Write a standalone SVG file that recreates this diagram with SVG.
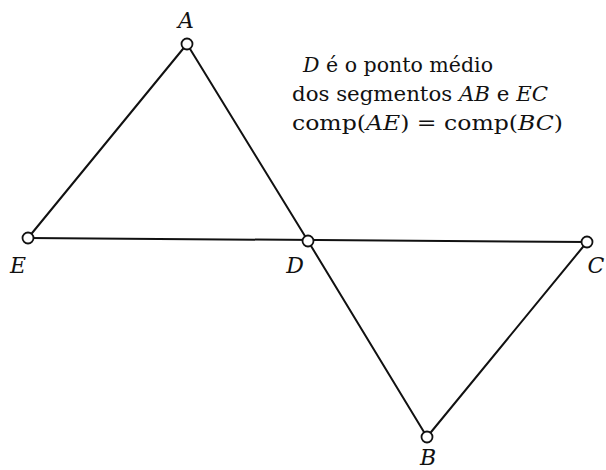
<svg xmlns="http://www.w3.org/2000/svg" width="606" height="470" viewBox="0 0 606 470">
<style>
.seg{stroke:#111;stroke-width:2;fill:none;stroke-linecap:round}
.pt{fill:#fff;stroke:#111;stroke-width:1.8}
.lbl{font-style:italic;font-size:22px;fill:#111}
.txt{font-size:20px;fill:#111}
.it{font-style:italic}
</style>
<rect width="606" height="470" fill="#fff"/>
<g id="connectors">
<line class="seg" x1="187" y1="44" x2="28" y2="238"/>
<line class="seg" x1="187" y1="44" x2="308" y2="241"/>
<line class="seg" x1="28" y1="238" x2="587" y2="242"/>
<line class="seg" x1="308" y1="241" x2="427" y2="437"/>
<line class="seg" x1="427" y1="437" x2="587" y2="242"/>
</g>
<g font-family="DejaVu Serif, serif">
<g id="A"><circle class="pt" cx="187" cy="44" r="5.5"/><text class="lbl" x="186" y="28" text-anchor="middle">A</text></g>
<g id="E"><circle class="pt" cx="28" cy="238" r="5.5"/><text class="lbl" x="18" y="273" text-anchor="middle">E</text></g>
<g id="D"><circle class="pt" cx="308" cy="241" r="5.5"/><text class="lbl" x="295" y="273" text-anchor="middle">D</text></g>
<g id="C"><circle class="pt" cx="587" cy="242" r="5.5"/><text class="lbl" x="596" y="273" text-anchor="middle">C</text></g>
<g id="B"><circle class="pt" cx="427" cy="437" r="5.5"/><text class="lbl" x="428" y="465" text-anchor="middle">B</text></g>
</g>
<g id="note" font-family="DejaVu Serif, serif">
<text class="txt" x="303" y="72" textLength="190" lengthAdjust="spacingAndGlyphs"><tspan class="it">D</tspan> é o ponto médio</text>
<text class="txt" x="292" y="101" textLength="256" lengthAdjust="spacingAndGlyphs">dos segmentos <tspan class="it">AB</tspan> e <tspan class="it">EC</tspan></text>
<text class="txt" x="292" y="130" textLength="271" lengthAdjust="spacingAndGlyphs">comp(<tspan class="it">AE</tspan>) = comp(<tspan class="it">BC</tspan>)</text>
</g>
</svg>
